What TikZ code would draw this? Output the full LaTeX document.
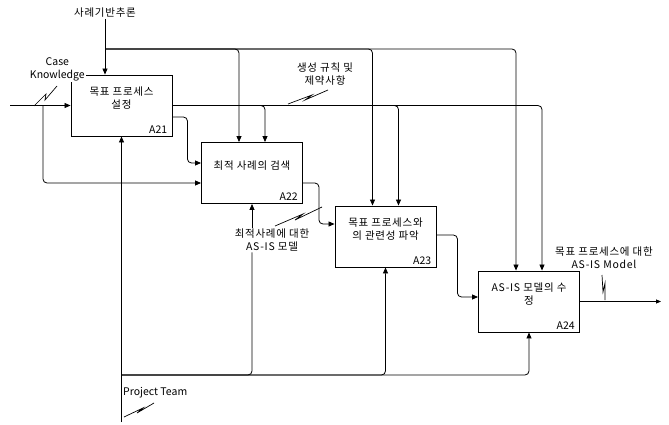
\documentclass[tikz,border=0pt]{standalone}
\usepackage{fontspec}
\setmainfont{Noto Sans CJK KR}
\newfontfamily\kr[LetterSpace=7]{Noto Sans CJK KR}
\usetikzlibrary{arrows.meta,positioning,calc}

\begin{document}
\begin{tikzpicture}[x=1pt,y=-1pt,
  font=\fontsize{10.5}{13}\selectfont,
  fn/.style={draw,line width=0.9pt,minimum width=101pt,minimum height=61pt,inner sep=0pt},
  title/.style={align=center,inner sep=1pt,font=\fontsize{10.5}{13}\kr},
  fid/.style={anchor=south east,inner sep=1pt},
  lbl/.style={align=center,inner sep=1pt,font=\fontsize{10.5}{13}\kr},
  flow/.style={line width=0.8pt,rounded corners=4pt},
  arrow/.style={flow,-{Triangle[length=6pt,width=5pt]}},
  squig/.style={line width=0.7pt}
]
\useasboundingbox (0,0) rectangle (669,425);

% activity boxes
\node[fn] (a21) at (121.5,105.5) {};
\node[fn] (a22) at (252,173) {};
\node[fn] (a23) at (385.5,236.5) {};
\node[fn] (a24) at (529,301.5) {};
\node[title] (t21) at ([yshift=-24pt]a21.north) {목표 프로세스\\설정};
\node[title] (t22) at ([yshift=-24pt]a22.north) {최적 사례의 검색};
\node[title] (t23) at ([yshift=-24pt]a23.north) {목표 프로세스와\\의 관련성 파악};
\node[title] (t24) at ([yshift=-24pt]a24.north) {AS-IS 모델의 수\\정};
\node[fid] (i21) at ([xshift=-4pt,yshift=2pt]a21.south east) {A21};
\node[fid] (i22) at ([xshift=-4pt,yshift=2pt]a22.south east) {A22};
\node[fid] (i23) at ([xshift=-4pt,yshift=2pt]a23.south east) {A23};
\node[fid] (i24) at ([xshift=-4pt,yshift=2pt]a24.south east) {A24};

% arrow labels
\node[lbl] (cbr) at (105,13) {사례기반추론};
\node[align=center,inner sep=1pt,fill=white,anchor=east] (ck) at (86,69) {Case\\Knowledge};
\node[lbl] (rule) at (325,74.5) {생성 규칙 및\\제약사항};
\node[lbl] (asis) at (272,240) {최적사례에 대한\\AS-IS 모델};
\node[lbl] (tobe) at (604,258) {목표 프로세스에 대한\\AS-IS Model};
\node[inner sep=1pt,anchor=west] (team) at (122,393) {Project Team};

% control entry points
\coordinate (a22c1) at ([xshift=-13pt]a22.north);
\coordinate (a22c2) at ([xshift=13pt]a22.north);
\coordinate (a23c1) at ([xshift=-13pt]a23.north);
\coordinate (a23c2) at ([xshift=13pt]a23.north);
\coordinate (a24c1) at ([xshift=-13pt]a24.north);
\coordinate (a24c2) at ([xshift=13pt]a24.north);
\coordinate (cj) at (105,49);
\coordinate (ckin) at (10,105.5);
\coordinate (ckj) at (43,105.5);
\coordinate (team0) at (121.5,422);
\coordinate (mj) at (121.5,375);
\coordinate (outend) at (661,301.5);

% controls
\draw[arrow] (cbr.south) -- (cbr.south |- a21.north);
\draw[arrow] (cj) -| (a22c1);
\draw[arrow] (cj) -| (a23c1);
\draw[arrow] (cj) -| (a24c1);
\draw[arrow] (a21.east) -| (a22c2);
\draw[arrow] (a21.east) -| (a23c2);
\draw[arrow] (a21.east) -| (a24c2);

% inputs and outputs
\draw[arrow] (ckin) -- (a21.west);
\draw[arrow] (ckj) |- ([yshift=-10pt]a22.west);
\draw[arrow] ([yshift=-11.5pt]a21.east) -- ++(15,0) |- ([yshift=10pt]a22.west);
\draw[arrow] ([yshift=-10pt]a22.east) -- ++(16,0) |- ([yshift=12.5pt]a23.west);
\draw[arrow] ([yshift=1.5pt]a23.east) -- ++(21,0) |- ([yshift=4.5pt]a24.west);
\draw[flow,-{Triangle[length=5pt,width=4pt]}] (a24.east) -- (outend);

% mechanisms
\draw[arrow] (team0) -- (a21.south);
\draw[flow] (mj) -| (a22.south |- asis.south);
\draw[arrow] (a22.south |- asis.north) -- (a22.south);
\draw[arrow] (mj) -| (a23.south);
\draw[arrow] (mj) -| (a24.south);

% squiggles
\draw[squig] (34,106) -- (46,94) -- (45,100) -- (57,86);
\draw[squig] (288,104) -- (312,95) -- (305,100) -- (328,90);
\draw[squig] (275,226) -- (303,214) -- (295,220) -- (322,207);
\draw[squig] (124,417) -- (143,408) -- (137,413) -- (154,403);
\draw[squig] (602,275) -- (603,292) -- (605,283) -- (605,300);
\end{tikzpicture}
\end{document}
